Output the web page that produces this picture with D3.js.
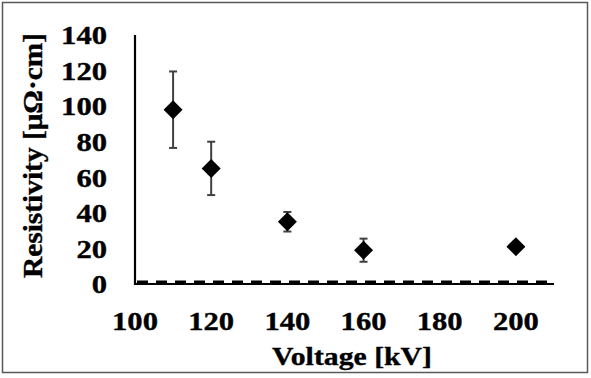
<!DOCTYPE html>
<html>
<head>
<meta charset="utf-8">
<script src="https://cdn.jsdelivr.net/npm/d3@7"></script>
<style>
  body { margin: 0; background: #fff; }
  text { font-family: "Liberation Serif", "Times New Roman", serif; font-weight: bold; fill: #000; stroke: #000; stroke-width: 0.35px; }
</style>
</head>
<body>
<svg id="chart" width="591" height="378"></svg>
<script>
// Data
var voltages = [110, 120, 140, 160, 200];
var resistivity = [98, 65, 35, 19, 21];
var errors = [21.5, 15, 5.5, 6.5, 0];
var xTicks = [100, 120, 140, 160, 180, 200];
var yTicks = [0, 20, 40, 60, 80, 100, 120, 140];

var svg = d3.select("#chart");

// Outer frame
svg.append("rect")
    .attr("x", 2.5).attr("y", 2.5)
    .attr("width", 585).attr("height", 370)
    .style("fill", "none")
    .style("stroke", "#595959")
    .style("stroke-width", 1.5);

var x = d3.scaleLinear().domain([100, 210]).range([135, 554]);
var y = d3.scaleLinear().domain([0, 140]).range([284, 35]);

// Y axis line
svg.append("line")
    .attr("x1", x(100)).attr("x2", x(100))
    .attr("y1", y(140)).attr("y2", y(0) + 1)
    .style("stroke", "#000").style("stroke-width", 2.2);

// X axis line
svg.append("line")
    .attr("x1", x(100) - 1).attr("x2", x(210))
    .attr("y1", y(0)).attr("y2", y(0))
    .style("stroke", "#000").style("stroke-width", 2);

// Dashed zero line
svg.append("line")
    .attr("x1", x(100) + 2).attr("x2", x(210))
    .attr("y1", y(0) - 1.5).attr("y2", y(0) - 1.5)
    .style("stroke", "#000").style("stroke-width", 4)
    .style("stroke-dasharray", "11,8");

// Tick labels, stretched to the wide digits of the original font
var digitWidth = 15.3;

svg.selectAll(".ylab")
    .data(yTicks)
    .enter()
    .append("text")
        .attr("class", "ylab")
        .attr("x", 107)
        .attr("y", function (d) { return y(d) + 1; })
        .attr("dy", "0.34em")
        .attr("text-anchor", "end")
        .attr("textLength", function (d) { return String(d).length * digitWidth; })
        .attr("lengthAdjust", "spacingAndGlyphs")
        .style("font-size", "24.5px")
        .text(function (d) { return d; });

svg.selectAll(".xlab")
    .data(xTicks)
    .enter()
    .append("text")
        .attr("class", "xlab")
        .attr("x", function (d) { return x(d); })
        .attr("y", 330)
        .attr("text-anchor", "middle")
        .attr("textLength", function (d) { return String(d).length * digitWidth; })
        .attr("lengthAdjust", "spacingAndGlyphs")
        .style("font-size", "24.5px")
        .text(function (d) { return d; });

// Axis titles
svg.append("text")
    .attr("x", 352).attr("y", 365)
    .attr("text-anchor", "middle")
    .attr("textLength", 160)
    .attr("lengthAdjust", "spacingAndGlyphs")
    .style("font-size", "26px")
    .text("Voltage [kV]");

svg.append("text")
    .attr("transform", "translate(42,155.5) rotate(-90)")
    .attr("text-anchor", "middle")
    .attr("textLength", 245)
    .attr("lengthAdjust", "spacingAndGlyphs")
    .style("font-size", "27px")
    .text("Resistivity [μΩ·cm]");

// Error bars
var pts = voltages.map(function (v, i) {
    return { x: v, y: resistivity[i], e: errors[i] };
});

var bars = svg.selectAll(".err")
    .data(pts.filter(function (d) { return d.e > 0; }))
    .enter()
    .append("g")
        .attr("class", "err")
        .style("stroke", "#404040")
        .style("stroke-width", 2);

bars.append("line")
    .attr("x1", function (d) { return x(d.x); })
    .attr("x2", function (d) { return x(d.x); })
    .attr("y1", function (d) { return y(d.y + d.e); })
    .attr("y2", function (d) { return y(d.y - d.e); });

bars.append("line")
    .attr("x1", function (d) { return x(d.x) - 4; })
    .attr("x2", function (d) { return x(d.x) + 4; })
    .attr("y1", function (d) { return y(d.y + d.e); })
    .attr("y2", function (d) { return y(d.y + d.e); });

bars.append("line")
    .attr("x1", function (d) { return x(d.x) - 4; })
    .attr("x2", function (d) { return x(d.x) + 4; })
    .attr("y1", function (d) { return y(d.y - d.e); })
    .attr("y2", function (d) { return y(d.y - d.e); });

// Diamond markers
svg.selectAll(".pt")
    .data(pts)
    .enter()
    .append("path")
        .attr("class", "pt")
        .attr("d", "M0,-9.5L9.5,0L0,9.5L-9.5,0Z")
        .attr("transform", function (d) { return "translate(" + x(d.x) + "," + y(d.y) + ")"; })
        .style("fill", "#000");
</script>
</body>
</html>
